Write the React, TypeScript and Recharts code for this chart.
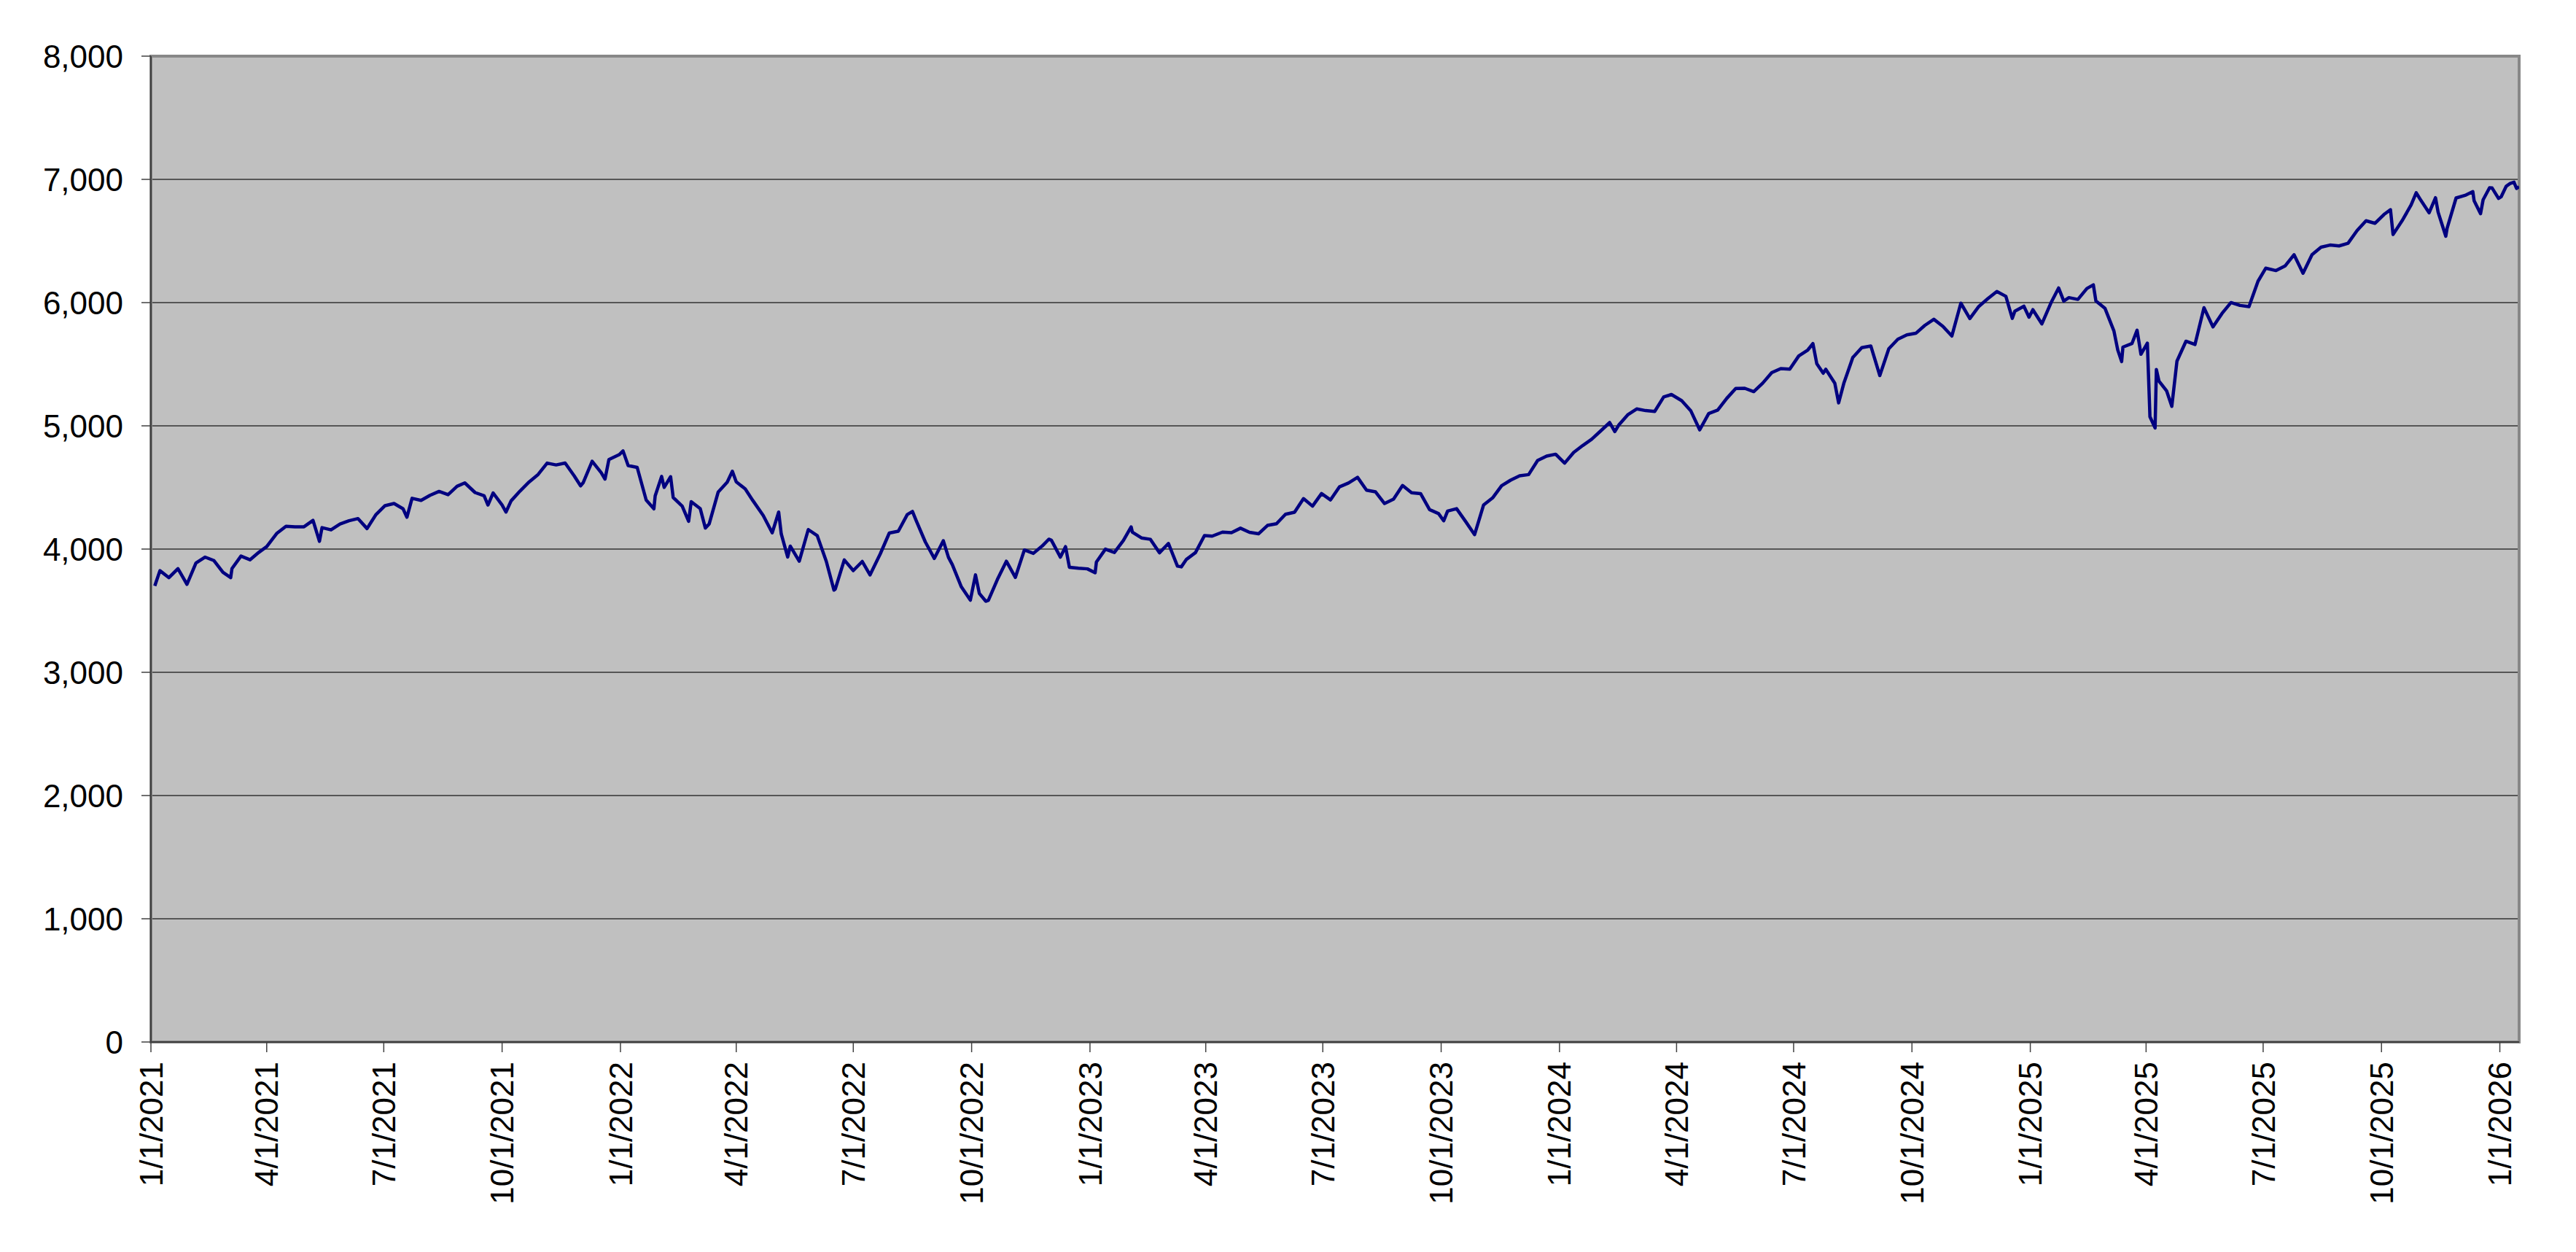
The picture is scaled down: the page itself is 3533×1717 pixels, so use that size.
import { CartesianGrid, Line, LineChart, ReferenceArea, XAxis, YAxis } from "recharts";

// Weekly closes (plus a few notable daily highs/lows).
const closes2021: [string, number][] = [
	["2021-01-04", 3700.65], ["2021-01-08", 3824.68], ["2021-01-15", 3768.25], ["2021-01-22", 3841.47],
	["2021-01-27", 3750.77], ["2021-01-29", 3714.24], ["2021-02-05", 3886.83], ["2021-02-12", 3934.83],
	["2021-02-19", 3906.71], ["2021-02-26", 3811.15], ["2021-03-04", 3768.47], ["2021-03-05", 3841.94],
	["2021-03-12", 3943.34], ["2021-03-19", 3913.1], ["2021-03-26", 3974.54], ["2021-04-01", 4019.87],
	["2021-04-09", 4128.8], ["2021-04-16", 4185.47], ["2021-04-23", 4180.17], ["2021-04-30", 4181.17],
	["2021-05-07", 4232.6], ["2021-05-12", 4063.04], ["2021-05-14", 4173.85], ["2021-05-21", 4155.86],
	["2021-05-28", 4204.11], ["2021-06-04", 4229.89], ["2021-06-11", 4247.44], ["2021-06-18", 4166.45],
	["2021-06-25", 4280.7], ["2021-07-02", 4352.34], ["2021-07-09", 4369.55], ["2021-07-16", 4327.16],
	["2021-07-19", 4258.49], ["2021-07-23", 4411.79], ["2021-07-30", 4395.26], ["2021-08-06", 4436.52],
	["2021-08-13", 4468.0], ["2021-08-20", 4441.67], ["2021-08-27", 4509.37], ["2021-09-02", 4536.95],
	["2021-09-10", 4458.58], ["2021-09-17", 4432.99], ["2021-09-20", 4357.73], ["2021-09-24", 4455.48],
	["2021-10-01", 4357.04], ["2021-10-04", 4300.46], ["2021-10-08", 4391.34], ["2021-10-15", 4471.37],
	["2021-10-22", 4544.9], ["2021-10-29", 4605.38], ["2021-11-05", 4697.53], ["2021-11-12", 4682.85],
	["2021-11-19", 4697.96], ["2021-11-26", 4594.62], ["2021-12-01", 4513.04], ["2021-12-03", 4538.43],
	["2021-12-10", 4712.02], ["2021-12-17", 4620.64], ["2021-12-20", 4568.02], ["2021-12-23", 4725.79],
	["2021-12-31", 4766.18],
];

const closes2022: [string, number][] = [
	["2022-01-03", 4796.56], ["2022-01-07", 4677.03], ["2022-01-14", 4662.85], ["2022-01-21", 4397.94],
	["2022-01-27", 4326.51], ["2022-01-28", 4431.85], ["2022-02-02", 4589.38], ["2022-02-04", 4500.53],
	["2022-02-09", 4587.18], ["2022-02-11", 4418.64], ["2022-02-18", 4348.87], ["2022-02-23", 4225.5],
	["2022-02-25", 4384.65], ["2022-03-04", 4328.87], ["2022-03-08", 4170.7], ["2022-03-11", 4204.31],
	["2022-03-18", 4463.12], ["2022-03-25", 4543.06], ["2022-03-29", 4631.6], ["2022-04-01", 4545.86],
	["2022-04-08", 4488.28], ["2022-04-14", 4392.59], ["2022-04-22", 4271.78], ["2022-04-29", 4131.93],
	["2022-05-04", 4300.17], ["2022-05-06", 4123.34], ["2022-05-11", 3935.18], ["2022-05-13", 4023.89],
	["2022-05-20", 3901.36], ["2022-05-27", 4158.24], ["2022-06-03", 4108.54], ["2022-06-10", 3900.86],
	["2022-06-16", 3666.77], ["2022-06-17", 3674.84], ["2022-06-24", 3911.74], ["2022-07-01", 3825.33],
	["2022-07-08", 3899.38], ["2022-07-14", 3790.38], ["2022-07-22", 3961.63], ["2022-07-29", 4130.29],
	["2022-08-05", 4145.19], ["2022-08-12", 4280.15], ["2022-08-16", 4305.2], ["2022-08-19", 4228.48],
	["2022-08-26", 4057.66], ["2022-09-02", 3924.26], ["2022-09-09", 4067.36], ["2022-09-13", 3932.69],
	["2022-09-16", 3873.33], ["2022-09-23", 3693.23], ["2022-09-30", 3585.62], ["2022-10-04", 3790.93],
	["2022-10-07", 3639.66], ["2022-10-12", 3577.03], ["2022-10-14", 3583.07], ["2022-10-21", 3752.75],
	["2022-10-28", 3901.06], ["2022-11-04", 3770.55], ["2022-11-11", 3992.93], ["2022-11-18", 3965.34],
	["2022-11-25", 4026.12], ["2022-11-30", 4080.11], ["2022-12-02", 4071.7], ["2022-12-09", 3934.38],
	["2022-12-13", 4019.65], ["2022-12-16", 3852.36], ["2022-12-23", 3844.82], ["2022-12-30", 3839.5],
];

const closes2023: [string, number][] = [
	["2023-01-05", 3808.1], ["2023-01-06", 3895.08], ["2023-01-13", 3999.09], ["2023-01-20", 3972.61],
	["2023-01-27", 4070.56], ["2023-02-02", 4179.76], ["2023-02-03", 4136.48], ["2023-02-10", 4090.46],
	["2023-02-17", 4079.09], ["2023-02-24", 3970.04], ["2023-03-03", 4045.64], ["2023-03-10", 3861.59],
	["2023-03-13", 3855.76], ["2023-03-17", 3916.64], ["2023-03-24", 3970.99], ["2023-03-31", 4109.31],
	["2023-04-06", 4105.02], ["2023-04-14", 4137.64], ["2023-04-21", 4133.52], ["2023-04-28", 4169.48],
	["2023-05-05", 4136.25], ["2023-05-12", 4124.08], ["2023-05-19", 4191.98], ["2023-05-26", 4205.45],
	["2023-06-02", 4282.37], ["2023-06-09", 4298.86], ["2023-06-16", 4409.59], ["2023-06-23", 4348.33],
	["2023-06-30", 4450.38], ["2023-07-07", 4398.95], ["2023-07-14", 4505.42], ["2023-07-21", 4536.34],
	["2023-07-28", 4582.23], ["2023-08-04", 4478.03], ["2023-08-11", 4464.05], ["2023-08-18", 4369.71],
	["2023-08-25", 4405.71], ["2023-09-01", 4515.77], ["2023-09-08", 4457.49], ["2023-09-15", 4450.32],
	["2023-09-22", 4320.06], ["2023-09-29", 4288.05], ["2023-10-03", 4229.45], ["2023-10-06", 4308.5],
	["2023-10-13", 4327.78], ["2023-10-20", 4224.16], ["2023-10-27", 4117.37], ["2023-11-03", 4358.34],
	["2023-11-10", 4415.24], ["2023-11-17", 4514.02], ["2023-11-24", 4559.34], ["2023-12-01", 4594.63],
	["2023-12-08", 4604.37], ["2023-12-15", 4719.19], ["2023-12-22", 4754.63], ["2023-12-29", 4769.83],
];

const closes2024: [string, number][] = [
	["2024-01-05", 4697.24], ["2024-01-12", 4783.83], ["2024-01-19", 4839.81], ["2024-01-26", 4890.97],
	["2024-02-02", 4958.61], ["2024-02-09", 5026.61], ["2024-02-13", 4953.17], ["2024-02-16", 5005.57],
	["2024-02-23", 5088.8], ["2024-03-01", 5137.08], ["2024-03-08", 5123.69], ["2024-03-15", 5117.09],
	["2024-03-22", 5234.18], ["2024-03-28", 5254.35], ["2024-04-05", 5204.34], ["2024-04-12", 5123.41],
	["2024-04-19", 4967.23], ["2024-04-26", 5099.96], ["2024-05-03", 5127.79], ["2024-05-10", 5222.68],
	["2024-05-17", 5303.27], ["2024-05-24", 5304.72], ["2024-05-31", 5277.51], ["2024-06-07", 5346.99],
	["2024-06-14", 5431.6], ["2024-06-21", 5464.62], ["2024-06-28", 5460.48], ["2024-07-05", 5567.19],
	["2024-07-12", 5615.35], ["2024-07-16", 5667.2], ["2024-07-19", 5505.0], ["2024-07-24", 5427.13],
	["2024-07-26", 5459.1], ["2024-08-02", 5346.56], ["2024-08-05", 5186.33], ["2024-08-09", 5344.16],
	["2024-08-16", 5554.25], ["2024-08-23", 5634.61], ["2024-08-30", 5648.4], ["2024-09-06", 5408.42],
	["2024-09-13", 5626.02], ["2024-09-20", 5702.55], ["2024-09-27", 5738.17], ["2024-10-04", 5751.07],
	["2024-10-11", 5815.03], ["2024-10-18", 5864.67], ["2024-10-25", 5808.12], ["2024-11-01", 5728.8],
	["2024-11-08", 5995.54], ["2024-11-15", 5870.62], ["2024-11-22", 5969.34], ["2024-11-29", 6032.38],
	["2024-12-06", 6090.27], ["2024-12-13", 6051.09], ["2024-12-18", 5872.16], ["2024-12-20", 5930.85],
	["2024-12-27", 5970.84], ["2024-12-31", 5881.63],
];

const closes2025: [string, number][] = [
	["2025-01-03", 5942.47], ["2025-01-10", 5827.04], ["2025-01-17", 5996.66], ["2025-01-23", 6118.71],
	["2025-01-27", 6012.28], ["2025-01-31", 6040.53], ["2025-02-07", 6025.99], ["2025-02-14", 6114.63],
	["2025-02-19", 6144.15], ["2025-02-21", 6013.13], ["2025-02-28", 5954.5], ["2025-03-07", 5770.2],
	["2025-03-10", 5614.56], ["2025-03-13", 5521.52], ["2025-03-14", 5638.94], ["2025-03-21", 5667.56],
	["2025-03-25", 5776.65], ["2025-03-28", 5580.94], ["2025-04-02", 5670.97], ["2025-04-04", 5074.08],
	["2025-04-08", 4982.77], ["2025-04-09", 5456.9], ["2025-04-11", 5363.36], ["2025-04-17", 5282.7],
	["2025-04-21", 5158.2], ["2025-04-25", 5525.21], ["2025-05-02", 5686.67], ["2025-05-09", 5659.91],
	["2025-05-16", 5958.38], ["2025-05-23", 5802.82], ["2025-05-30", 5911.69], ["2025-06-06", 6000.36],
	["2025-06-13", 5976.97], ["2025-06-20", 5967.84], ["2025-06-27", 6173.07], ["2025-07-03", 6279.35],
	["2025-07-11", 6259.75], ["2025-07-18", 6296.79], ["2025-07-25", 6388.64], ["2025-08-01", 6238.01],
	["2025-08-08", 6389.45], ["2025-08-15", 6449.8], ["2025-08-22", 6466.91], ["2025-08-29", 6460.26],
	["2025-09-05", 6481.5], ["2025-09-12", 6584.29], ["2025-09-19", 6664.36], ["2025-09-26", 6643.7],
	["2025-10-03", 6715.79], ["2025-10-08", 6753.72], ["2025-10-10", 6552.51], ["2025-10-17", 6664.01],
	["2025-10-24", 6791.69], ["2025-10-28", 6890.89], ["2025-10-31", 6840.2], ["2025-11-07", 6728.8],
	["2025-11-12", 6850.92], ["2025-11-14", 6734.11], ["2025-11-20", 6538.76], ["2025-11-21", 6602.99],
	["2025-11-28", 6849.09], ["2025-12-05", 6870.4], ["2025-12-11", 6901.0], ["2025-12-12", 6827.41],
	["2025-12-17", 6721.43], ["2025-12-19", 6834.5], ["2025-12-24", 6932.05], ["2025-12-26", 6929.94],
	["2025-12-31", 6845.5],
];

const closes2026: [string, number][] = [
	["2026-01-02", 6858.47], ["2026-01-06", 6944.82], ["2026-01-09", 6966.28], ["2026-01-12", 6977.27],
	["2026-01-14", 6926.6], ["2026-01-16", 6940.01],
];

const xTickDates = [
	"2021-01-01", "2021-04-01", "2021-07-01", "2021-10-01",
	"2022-01-01", "2022-04-01", "2022-07-01", "2022-10-01",
	"2023-01-01", "2023-04-01", "2023-07-01", "2023-10-01",
	"2024-01-01", "2024-04-01", "2024-07-01", "2024-10-01",
	"2025-01-01", "2025-04-01", "2025-07-01", "2025-10-01",
	"2026-01-01",
];

const yTicks = [0, 1000, 2000, 3000, 4000, 5000, 6000, 7000, 8000];

const FONT = '"Liberation Sans", Arial, sans-serif';

const toTime = (s: string) => {
	const [y, m, d] = s.split("-").map(Number);
	return Date.UTC(y, m - 1, d);
};

const chartData = [...closes2021, ...closes2022, ...closes2023, ...closes2024, ...closes2025, ...closes2026].map(
	([date, close]) => ({ t: toTime(date), close }),
);

const X_MIN = toTime("2021-01-01");
const X_MAX = toTime("2026-01-16");

const formatDate = (t: number) => {
	const d = new Date(t);
	return `${d.getUTCMonth() + 1}/${d.getUTCDate()}/${d.getUTCFullYear()}`;
};

function DateTick({ x, y, payload }: any) {
	return (
		<text
			x={x}
			y={y}
			dy="0.355em"
			transform={`rotate(-90, ${x}, ${y})`}
			textAnchor="end"
			fontFamily={FONT}
			fontSize={44}
			fill="#000"
		>
			{formatDate(payload.value)}
		</text>
	);
}

export default function App() {
	return (
		<div style={{ position: "absolute", left: 0, top: 0, width: 3533, height: 1717, background: "#fff" }}>
			<LineChart width={3533} height={1717} data={chartData} margin={{ top: 77, right: 78, bottom: 38, left: 57 }}>
				<CartesianGrid vertical={false} fill="#c0c0c0" stroke="#333" strokeWidth={1.5} />
				<XAxis
					dataKey="t"
					type="number"
					domain={[X_MIN, X_MAX]}
					ticks={xTickDates.map(toTime)}
					interval={0}
					height={250}
					tick={<DateTick />}
					tickSize={14}
					tickMargin={13}
					axisLine={{ stroke: "#404040", strokeWidth: 2 }}
					tickLine={{ stroke: "#404040", strokeWidth: 1.5 }}
					allowDataOverflow
				/>
				<YAxis
					type="number"
					domain={[0, 8000]}
					ticks={yTicks}
					interval={0}
					width={150}
					tickSize={13}
					tickMargin={25}
					tickFormatter={(v: number) => v.toLocaleString("en-US")}
					tick={{ fontFamily: FONT, fontSize: 44, fill: "#000" }}
					axisLine={{ stroke: "#404040", strokeWidth: 2 }}
					tickLine={{ stroke: "#404040", strokeWidth: 1.5 }}
				/>
				<ReferenceArea
					x1={X_MIN}
					x2={X_MAX}
					y1={0}
					y2={8000}
					fill="none"
					fillOpacity={0}
					stroke="#888"
					strokeWidth={4}
				/>
				<Line
					type="linear"
					dataKey="close"
					stroke="#000080"
					strokeWidth={4.5}
					strokeLinejoin="round"
					dot={false}
					isAnimationActive={false}
				/>
			</LineChart>
		</div>
	);
}
